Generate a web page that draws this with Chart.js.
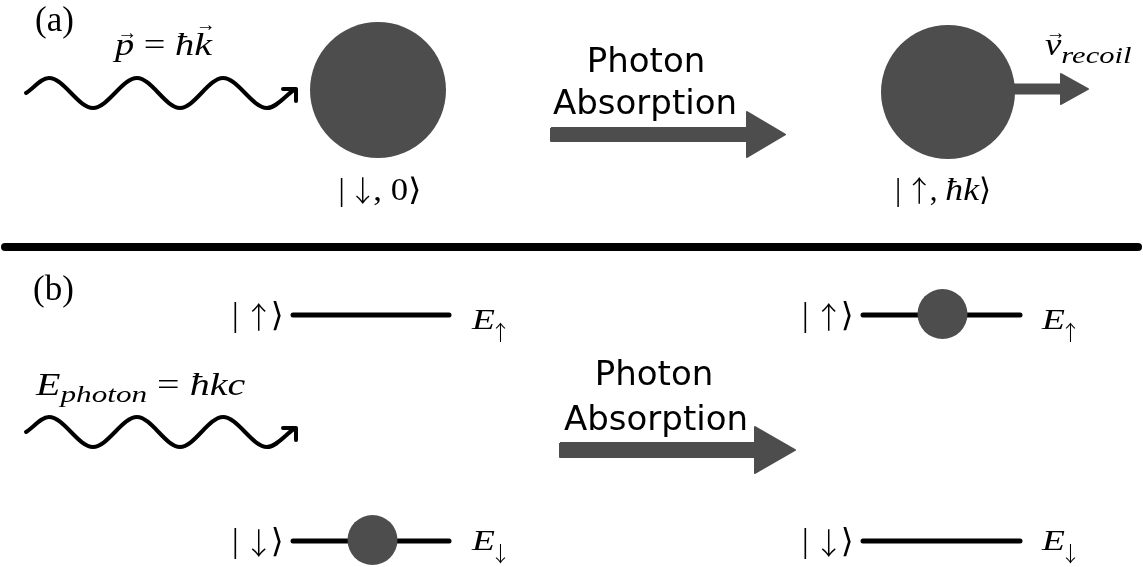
<!DOCTYPE html>
<html>
<head>
<meta charset="utf-8">
<script src="https://cdn.jsdelivr.net/npm/chart.js@4"></script>
<style>
  html, body { margin: 0; padding: 0; background: #fff; overflow: hidden; }
  #wrap { width: 1143px; height: 567px; }
</style>
</head>
<body>
<div id="wrap"><canvas id="diagram" width="1143" height="567"></canvas></div>
<script>
// Diagram coordinates: x grows to the right, y grows downward (0..1143, 0..567).

// Photon wave: crest / trough points along each wave
const waveX = [26, 49, 93, 137, 180, 223, 267, 295];
const waveYa = [93, 78, 108, 78, 108, 78, 108, 89];
const waveYb = [432, 417, 447, 417, 447, 417, 447, 428];
// Chevron at the end of each wave
const chevX = [283, 296, 296];
const chevYa = [89, 89, 101];
const chevYb = [428, 428, 440];

// Separator between panels (a) and (b)
const sepX = [5, 1138];
const sepY = 247;

// Energy levels in panel (b): [start, end] and height
const levelX = [[293, 449], [293, 449], [863, 1020], [863, 1020]];
const levelY = [315, 541, 315, 541];

// Atoms: big ones in (a), small ones sitting on the levels in (b)
const atomX = [378, 948, 942.5, 372.5];
const atomY = [90, 92, 314, 540];

// Block arrows: [tail, tip] and height
const blockArrowX = [[551, 785], [560, 795], [1012, 1088]];
const blockArrowY = [134.5, 450, 89];

// ---- styles ----
const GREY = '#4d4d4d';
const atomRadius = [68, 67, 25, 25];
const arrowShape = [ // shaft half-width, head half-height, head length
  { h: 6.5, H: 22.5, L: 38 },
  { h: 7, H: 23, L: 40 },
  { h: 4.5, H: 15, L: 27 }
];

const pts = (xs, ys) => xs.map((x, i) => ({ x, y: Array.isArray(ys) ? ys[i] : ys }));

function arrowPolygon(i) {
  const [x0, x1] = blockArrowX[i], y = blockArrowY[i], s = arrowShape[i];
  const xb = x1 - s.L;
  return [
    { x: x0, y: y - s.h }, { x: xb, y: y - s.h }, { x: xb, y: y - s.H },
    { x: x1, y: y }, { x: xb, y: y + s.H }, { x: xb, y: y + s.h },
    { x: x0, y: y + s.h }, { x: x0, y: y - s.h }
  ];
}

const lineDs = (data, width, extra) => Object.assign({
  data, showLine: true, borderColor: '#000', borderWidth: width,
  borderCapStyle: 'round', borderJoinStyle: 'round',
  pointRadius: 0, tension: 0, fill: false, order: 3, clip: false
}, extra || {});

const datasets = [
  lineDs(pts(waveX, waveYa), 4, { cubicInterpolationMode: 'monotone' }),
  lineDs(pts(waveX, waveYb), 4, { cubicInterpolationMode: 'monotone' }),
  lineDs(pts(chevX, chevYa), 4),
  lineDs(pts(chevX, chevYb), 4),
  lineDs(pts(sepX, sepY), 8),
  ...levelX.map((xs, i) => lineDs(pts(xs, levelY[i]), 5)),
  ...blockArrowX.map((_, i) => ({
    data: arrowPolygon(i), showLine: true, fill: 'shape',
    backgroundColor: GREY, borderColor: GREY, borderWidth: 2,
    borderJoinStyle: 'round', pointRadius: 0, tension: 0, order: 2, clip: false
  })),
  {
    data: pts(atomX, atomY), showLine: false,
    pointRadius: atomRadius, pointBackgroundColor: GREY,
    pointBorderColor: GREY, pointBorderWidth: 0, order: 1, clip: false
  }
];

// ---- text ----
const SERIF = '"Liberation Serif", "DejaVu Serif", "DejaVu Sans", serif';
const SANS = '"DejaVu Sans", sans-serif';
const ARROWS = '"Noto Sans CJK SC", "DejaVu Sans", sans-serif';
function fontOf(kind, size) {
  if (kind === 'i') return `italic ${size}px ${SERIF}`;
  if (kind === 's') return `${size}px ${SANS}`;
  if (kind === 'a') return `300 ${size}px ${ARROWS}`;
  return `${size}px ${SERIF}`;
}

// part: t text, k kind (i italic, r roman, s sans, a arrow glyph), s size,
//       dy baseline shift, st horizontal stretch, pad = side bearing trimmed
//       from each side, lift = height of a vector arrow over the glyph
const P = (t, k, s, o) => Object.assign({ t, k, s, dy: 0, st: 1, pad: 0, lift: 0 }, o || {});

const labels = [
  { x: 35, y: 31, align: 'left', parts: [P('(a)', 'r', 35)] },
  { x: 115, y: 55, align: 'left', parts: [
    P('p', 'i', 32, { st: 1.2, lift: 22 }), P(' = ', 'r', 32, { st: 1.2 }),
    P('ħ', 'i', 32, { st: 1.2 }), P('k', 'i', 32, { st: 1.25, lift: 30 })] },
  { x: 380, y: 200, align: 'center', parts: [
    P('| ', 'r', 31), P('↓', 'a', 29, { dy: 2, pad: 4 }), P(', 0⟩', 'r', 31, { st: 1.12 })] },
  { x: 646, y: 72, align: 'center', parts: [P('Photon', 's', 34)] },
  { x: 645, y: 114, align: 'center', parts: [P('Absorption', 's', 34)] },
  { x: 1045, y: 55, align: 'left', parts: [
    P('v', 'i', 32, { st: 1.15, lift: 22 }), P('recoil', 'i', 23, { dy: 8, st: 1.33 })] },
  { x: 943, y: 200, align: 'center', parts: [
    P('| ', 'r', 31), P('↑', 'a', 29, { dy: 2, pad: 4 }), P(', ', 'r', 31),
    P('ħk', 'i', 31, { st: 1.15 }), P('⟩', 'r', 31)] },

  { x: 33, y: 300, align: 'left', parts: [P('(b)', 'r', 35)] },
  { x: 36, y: 395, align: 'left', parts: [
    P('E', 'i', 32, { st: 1.25 }), P('photon', 'i', 24, { dy: 7, st: 1.3 }),
    P(' = ', 'r', 32, { st: 1.25 }), P('ħkc', 'i', 32, { st: 1.25 })] },
  { x: 654, y: 385, align: 'center', parts: [P('Photon', 's', 34)] },
  { x: 656, y: 430, align: 'center', parts: [P('Absorption', 's', 34)] }
];

// bra labels and energy labels beside each level
const braX = [232, 232, 802, 802];
const energyX = [472, 472, 1042, 1042];
const spinGlyph = ['↑', '↓', '↑', '↓'];
const braBaseline = [326, 552, 326, 552];
const energyBaseline = [329, 550, 329, 550];
spinGlyph.forEach((g, i) => {
  labels.push({ x: braX[i], y: braBaseline[i], align: 'left', parts: [
    P('| ', 'r', 33), P(g, 'a', 30, { dy: 2, pad: 3 }), P('⟩', 'r', 33)] });
  labels.push({ x: energyX[i], y: energyBaseline[i], align: 'left', parts: [
    P('E', 'i', 30, { st: 1.25 }), P(g, 'a', 21, { dy: 11, pad: 5 })] });
});

const textPlugin = {
  id: 'diagramText',
  afterDatasetsDraw(chart) {
    const { ctx, scales: { x: sx, y: sy } } = chart;
    ctx.save();
    ctx.fillStyle = '#000';
    ctx.textBaseline = 'alphabetic';
    ctx.textAlign = 'left';
    labels.forEach(lb => {
      let total = 0;
      const widths = lb.parts.map(p => {
        ctx.font = fontOf(p.k, p.s);
        const w = ctx.measureText(p.t).width * p.st - 2 * p.pad;
        total += w;
        return w;
      });
      let cx = sx.getPixelForValue(lb.x) - (lb.align === 'center' ? total / 2 : 0);
      const by = sy.getPixelForValue(lb.y);
      lb.parts.forEach((p, i) => {
        ctx.font = fontOf(p.k, p.s);
        ctx.save();
        ctx.translate(cx - p.pad, by + p.dy);
        ctx.scale(p.st, 1);
        ctx.fillText(p.t, 0, 0);
        ctx.restore();
        if (p.lift) {
          ctx.font = fontOf('r', Math.round(p.s * 0.62));
          const aw = ctx.measureText('→').width;
          ctx.fillText('→', cx + widths[i] / 2 - aw / 2 + p.s * 0.08, by + p.dy - p.lift + p.s * 0.2);
        }
        cx += widths[i];
      });
    });
    ctx.restore();
  }
};

new Chart(document.getElementById('diagram'), {
  type: 'scatter',
  data: { datasets },
  options: {
    responsive: false,
    animation: false,
    events: [],
    layout: { padding: 0, autoPadding: false },
    plugins: { legend: { display: false }, tooltip: { enabled: false } },
    scales: {
      x: { type: 'linear', min: 0, max: 1143, display: false },
      y: { type: 'linear', min: 0, max: 567, reverse: true, display: false }
    }
  },
  plugins: [textPlugin]
});
</script>
</body>
</html>
